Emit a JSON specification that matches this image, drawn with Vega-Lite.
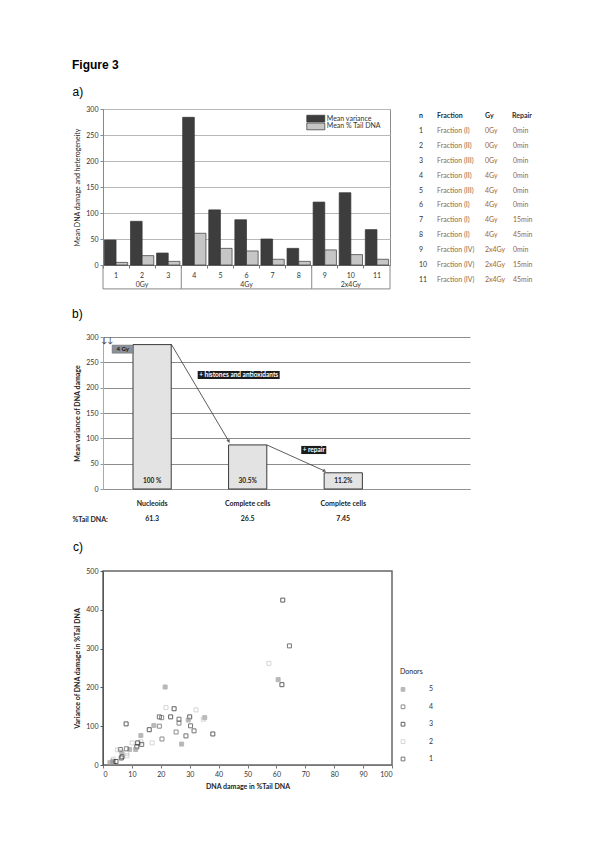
{
  "$schema": "https://vega.github.io/schema/vega-lite/v6.json",
  "padding": {"left": 72, "top": 58, "right": 5, "bottom": 5},
  "background": "white",
  "title": {"text": "Figure 3", "anchor": "start", "frame": "bounds", "font": "Liberation Sans", "fontSize": 12, "fontWeight": "bold", "color": "#000", "offset": 14},
  "spacing": 18,
  "config": {
    "font": "Lato",
    "view": {"stroke": null},
    "axis": {"labelFont": "Lato", "titleFont": "Lato", "labelColor": "#333", "titleColor": "#222"}
  },
  "vconcat": [
    {
      "title": {"text": "a)", "anchor": "start", "frame": "bounds", "font": "Liberation Sans", "fontSize": 12, "fontWeight": "normal", "color": "#000", "offset": 6},
      "spacing": 28,
      "hconcat": [
        {
          "width": 287,
          "height": 156,
          "view": {"stroke": "#8c8c8c"},
          "data": {"values": [
            {"n": 1, "measure": "Mean variance", "value": 48},
            {"n": 1, "measure": "Mean % Tail DNA", "value": 5},
            {"n": 2, "measure": "Mean variance", "value": 84},
            {"n": 2, "measure": "Mean % Tail DNA", "value": 18},
            {"n": 3, "measure": "Mean variance", "value": 23},
            {"n": 3, "measure": "Mean % Tail DNA", "value": 7},
            {"n": 4, "measure": "Mean variance", "value": 284},
            {"n": 4, "measure": "Mean % Tail DNA", "value": 61},
            {"n": 5, "measure": "Mean variance", "value": 106},
            {"n": 5, "measure": "Mean % Tail DNA", "value": 32},
            {"n": 6, "measure": "Mean variance", "value": 87},
            {"n": 6, "measure": "Mean % Tail DNA", "value": 27},
            {"n": 7, "measure": "Mean variance", "value": 50},
            {"n": 7, "measure": "Mean % Tail DNA", "value": 11},
            {"n": 8, "measure": "Mean variance", "value": 32},
            {"n": 8, "measure": "Mean % Tail DNA", "value": 7},
            {"n": 9, "measure": "Mean variance", "value": 121},
            {"n": 9, "measure": "Mean % Tail DNA", "value": 29},
            {"n": 10, "measure": "Mean variance", "value": 139},
            {"n": 10, "measure": "Mean % Tail DNA", "value": 20},
            {"n": 11, "measure": "Mean variance", "value": 68},
            {"n": 11, "measure": "Mean % Tail DNA", "value": 11}
          ]},
          "layer": [
            {
              "mark": {"type": "bar", "stroke": "#333", "strokeWidth": 0.7},
              "encoding": {
                "x": {"field": "n", "type": "ordinal", "scale": {"paddingInner": 0, "paddingOuter": 0},
                  "axis": {"title": null, "labelAngle": 0, "labelFontSize": 7, "domainColor": "#777", "tickColor": "#777", "bandPosition": 0, "tickSize": 3, "labelPadding": 3}},
                "xOffset": {"field": "measure", "type": "nominal", "sort": ["Mean variance", "Mean % Tail DNA"], "scale": {"paddingOuter": 0.12, "paddingInner": 0}},
                "y": {"field": "value", "type": "quantitative", "scale": {"domain": [0, 300], "nice": false},
                  "axis": {"title": "Mean DNA damage and heterogeneity", "values": [0, 50, 100, 150, 200, 250, 300], "gridColor": "#b8b8b8", "labelFontSize": 7, "titleFontSize": 7, "titleFontWeight": "normal", "domainColor": "#888", "tickColor": "#888", "tickSize": 3, "minExtent": 20, "maxExtent": 20, "titlePadding": 3}},
                "color": {"field": "measure", "type": "nominal",
                  "scale": {"domain": ["Mean variance", "Mean % Tail DNA"], "range": ["#3d3d3d", "#c6c6c6"]},
                  "legend": null}
              }
            },
            {
              "data": {"values": [{"n": 2, "grp": "0Gy"}, {"n": 6, "grp": "4Gy"}, {"n": 10, "grp": "2x4Gy"}]},
              "mark": {"type": "text", "fontSize": 7, "color": "#333"},
              "encoding": {
                "x": {"field": "n", "type": "ordinal"},
                "y": {"datum": -39, "axis": {"title": "Mean DNA damage and heterogeneity", "values": [0, 50, 100, 150, 200, 250, 300], "gridColor": "#b8b8b8", "labelFontSize": 7, "titleFontSize": 7, "titleFontWeight": "normal", "domainColor": "#888", "tickColor": "#888", "tickSize": 3, "minExtent": 20, "maxExtent": 20, "titlePadding": 3}},
                "text": {"field": "grp"}
              }
            },
            {
              "data": {"values": [{}]},
              "mark": {"type": "rule", "color": "#888"},
              "encoding": {"x": {"datum": 1, "type": "ordinal", "bandPosition": 0},
                "y": {"datum": 0, "axis": {"title": "Mean DNA damage and heterogeneity", "values": [0, 50, 100, 150, 200, 250, 300], "gridColor": "#b8b8b8", "labelFontSize": 7, "titleFontSize": 7, "titleFontWeight": "normal", "domainColor": "#888", "tickColor": "#888", "tickSize": 3, "minExtent": 20, "maxExtent": 20, "titlePadding": 3}},
                "y2": {"datum": -46}}
            },
            {
              "data": {"values": [{"n": 3}, {"n": 8}, {"n": 11}]},
              "mark": {"type": "rule", "color": "#888"},
              "encoding": {"x": {"field": "n", "type": "ordinal", "bandPosition": 1},
                "y": {"datum": 0, "axis": {"title": "Mean DNA damage and heterogeneity", "values": [0, 50, 100, 150, 200, 250, 300], "gridColor": "#b8b8b8", "labelFontSize": 7, "titleFontSize": 7, "titleFontWeight": "normal", "domainColor": "#888", "tickColor": "#888", "tickSize": 3, "minExtent": 20, "maxExtent": 20, "titlePadding": 3}},
                "y2": {"datum": -46}}
            },
            {
              "data": {"values": [{}]},
              "mark": {"type": "rule", "color": "#888"},
              "encoding": {"y": {"datum": -46, "axis": {"title": "Mean DNA damage and heterogeneity", "values": [0, 50, 100, 150, 200, 250, 300], "gridColor": "#b8b8b8", "labelFontSize": 7, "titleFontSize": 7, "titleFontWeight": "normal", "domainColor": "#888", "tickColor": "#888", "tickSize": 3, "minExtent": 20, "maxExtent": 20, "titlePadding": 3}}}
            },
            {
              "data": {"values": [{"measure": "Mean variance", "top": 288, "bottom": 275}, {"measure": "Mean % Tail DNA", "top": 273, "bottom": 260}]},
              "mark": {"type": "bar", "width": 18, "xOffset": -9, "stroke": "#333", "strokeWidth": 0.7},
              "encoding": {
                "x": {"datum": 9, "type": "ordinal"},
                "y": {"field": "top", "type": "quantitative", "axis": {"title": "Mean DNA damage and heterogeneity", "values": [0, 50, 100, 150, 200, 250, 300], "gridColor": "#b8b8b8", "labelFontSize": 7, "titleFontSize": 7, "titleFontWeight": "normal", "domainColor": "#888", "tickColor": "#888", "tickSize": 3, "minExtent": 20, "maxExtent": 20, "titlePadding": 3}},
                "y2": {"field": "bottom"},
                "color": {"field": "measure", "type": "nominal", "legend": null}
              }
            },
            {
              "data": {"values": [{"measure": "Mean variance", "mid": 281.5}, {"measure": "Mean % Tail DNA", "mid": 266.5}]},
              "mark": {"type": "text", "align": "left", "fontSize": 7, "color": "#333", "dx": 2},
              "encoding": {
                "x": {"datum": 9, "type": "ordinal", "bandPosition": 0.5},
                "y": {"field": "mid", "type": "quantitative", "axis": {"title": "Mean DNA damage and heterogeneity", "values": [0, 50, 100, 150, 200, 250, 300], "gridColor": "#b8b8b8", "labelFontSize": 7, "titleFontSize": 7, "titleFontWeight": "normal", "domainColor": "#888", "tickColor": "#888", "tickSize": 3, "minExtent": 20, "maxExtent": 20, "titlePadding": 3}},
                "text": {"field": "measure"}
              }
            }
          ]
        },
        {
          "width": 93,
          "height": 178,
          "data": {"values": [
            {"n": 1, "fraction": "Fraction (I)", "gy": "0Gy", "repair": "0min"},
            {"n": 2, "fraction": "Fraction (II)", "gy": "0Gy", "repair": "0min"},
            {"n": 3, "fraction": "Fraction (III)", "gy": "0Gy", "repair": "0min"},
            {"n": 4, "fraction": "Fraction (II)", "gy": "4Gy", "repair": "0min"},
            {"n": 5, "fraction": "Fraction (III)", "gy": "4Gy", "repair": "0min"},
            {"n": 6, "fraction": "Fraction (I)", "gy": "4Gy", "repair": "0min"},
            {"n": 7, "fraction": "Fraction (I)", "gy": "4Gy", "repair": "15min"},
            {"n": 8, "fraction": "Fraction (I)", "gy": "4Gy", "repair": "45min"},
            {"n": 9, "fraction": "Fraction (IV)", "gy": "2x4Gy", "repair": "0min"},
            {"n": 10, "fraction": "Fraction (IV)", "gy": "2x4Gy", "repair": "15min"},
            {"n": 11, "fraction": "Fraction (IV)", "gy": "2x4Gy", "repair": "45min"}
          ]},
          "layer": [
            {
              "mark": {"type": "text", "align": "left", "fontSize": 7, "color": "#333"},
              "encoding": {
                "x": {"datum": "n", "type": "nominal", "scale": {"type": "point", "domain": ["n", "Fraction", "Gy", "Repair"], "padding": 0}, "axis": null},
                "y": {"field": "n", "type": "ordinal", "scale": {"domain": [0, 1, 2, 3, 4, 5, 6, 7, 8, 9, 10, 11], "paddingInner": 0, "paddingOuter": 0.25}, "axis": null},
                "text": {"field": "n"}
              }
            },
            {
              "mark": {"type": "text", "align": "left", "fontSize": 7, "color": "#8a6a48", "dx": -13},
              "encoding": {"x": {"datum": "Fraction", "type": "nominal"}, "y": {"field": "n", "type": "ordinal"}, "text": {"field": "fraction"}}
            },
            {
              "mark": {"type": "text", "align": "left", "fontSize": 7, "color": "#a0642e", "dx": 4},
              "encoding": {"x": {"datum": "Gy", "type": "nominal"}, "y": {"field": "n", "type": "ordinal"}, "text": {"field": "gy"}}
            },
            {
              "mark": {"type": "text", "align": "left", "fontSize": 7, "color": "#a0642e", "dx": 1},
              "encoding": {"x": {"datum": "Repair", "type": "nominal"}, "y": {"field": "n", "type": "ordinal"}, "text": {"field": "repair"}}
            },
            {
              "data": {"values": [{}]},
              "mark": {"type": "text", "align": "left", "fontSize": 7, "fontWeight": "bold", "color": "#1f3040", "text": "n"},
              "encoding": {"x": {"datum": "n", "type": "nominal"}, "y": {"datum": 0, "type": "ordinal"}}
            },
            {
              "data": {"values": [{}]},
              "mark": {"type": "text", "align": "left", "fontSize": 7, "fontWeight": "bold", "color": "#1f3040", "text": "Fraction", "dx": -13},
              "encoding": {"x": {"datum": "Fraction", "type": "nominal"}, "y": {"datum": 0, "type": "ordinal"}}
            },
            {
              "data": {"values": [{}]},
              "mark": {"type": "text", "align": "left", "fontSize": 7, "fontWeight": "bold", "color": "#1f3040", "text": "Gy", "dx": 4},
              "encoding": {"x": {"datum": "Gy", "type": "nominal"}, "y": {"datum": 0, "type": "ordinal"}}
            },
            {
              "data": {"values": [{}]},
              "mark": {"type": "text", "align": "left", "fontSize": 7, "fontWeight": "bold", "color": "#1f3040", "text": "Repair"},
              "encoding": {"x": {"datum": "Repair", "type": "nominal"}, "y": {"datum": 0, "type": "ordinal"}}
            }
          ]
        }
      ]
    },
    {
      "title": {"text": "b)", "anchor": "start", "frame": "bounds", "font": "Liberation Sans", "fontSize": 12, "fontWeight": "normal", "color": "#000", "offset": 12},
      "width": 367,
      "height": 152,
      "data": {"values": [
        {"cell": "Nucleoids|61.3", "variance": 285, "share": "100 %"},
        {"cell": "Complete cells|26.5", "variance": 87, "share": "30.5%"},
        {"cell": "Complete cells|7.45", "variance": 32, "share": "11.2%"}
      ]},
      "layer": [
        {
          "mark": {"type": "bar", "fill": "#e3e3e3", "stroke": "#3a3a3a", "strokeWidth": 1},
          "encoding": {
            "x": {"field": "cell", "type": "nominal", "sort": null,
              "scale": {"domain": ["Nucleoids|61.3", "Complete cells|26.5", "Complete cells|7.45"], "paddingInner": 0.6, "paddingOuter": 0.72, "align": 0.218},
              "axis": {"title": "%Tail DNA:", "titleX": -31, "titleY": 30, "titleAlign": "left", "titleBaseline": "middle", "titleFontSize": 7, "titleFontWeight": "bold", "labelExpr": "split(datum.label, '|')", "labelLineHeight": 15, "labelFontSize": 7, "labelFontWeight": "bold", "labelPadding": 10, "ticks": false, "domainColor": "#999", "domainDash": [1, 1], "labelAngle": 0, "labelColor": "#222"}},
            "y": {"field": "variance", "type": "quantitative", "scale": {"domain": [0, 300], "nice": false},
              "axis": {"title": "Mean variance of DNA damage", "titleFontWeight": "bold", "titleFontSize": 7, "values": [0, 50, 100, 150, 200, 250, 300], "gridColor": "#8c8c8c", "labelFontSize": 7, "domainColor": "#aaa", "tickColor": "#999", "tickSize": 3, "minExtent": 20, "maxExtent": 20, "titlePadding": 3}}
          }
        },
        {
          "mark": {"type": "text", "fontSize": 6.5, "fontWeight": "bold", "dy": -8, "color": "#222"},
          "encoding": {"x": {"field": "cell", "type": "nominal"},
            "y": {"datum": 0, "axis": {"title": "Mean variance of DNA damage", "titleFontWeight": "bold", "titleFontSize": 7, "values": [0, 50, 100, 150, 200, 250, 300], "gridColor": "#8c8c8c", "labelFontSize": 7, "domainColor": "#aaa", "tickColor": "#999", "tickSize": 3, "minExtent": 20, "maxExtent": 20, "titlePadding": 3}},
            "text": {"field": "share"}}
        },
        {
          "data": {"values": [
            {"from": "Nucleoids|61.3", "to": "Complete cells|26.5", "start": 286, "end": 95},
            {"from": "Complete cells|26.5", "to": "Complete cells|7.45", "start": 87, "end": 36}
          ]},
          "mark": {"type": "rule", "color": "#333", "strokeWidth": 0.8},
          "encoding": {
            "x": {"field": "from", "type": "nominal", "bandPosition": 1},
            "x2": {"field": "to", "bandPosition": 0},
            "y": {"field": "start", "type": "quantitative", "axis": {"title": "Mean variance of DNA damage", "titleFontWeight": "bold", "titleFontSize": 7, "values": [0, 50, 100, 150, 200, 250, 300], "gridColor": "#8c8c8c", "labelFontSize": 7, "domainColor": "#aaa", "tickColor": "#999", "tickSize": 3, "minExtent": 20, "maxExtent": 20, "titlePadding": 3}},
            "y2": {"field": "end"}
          }
        },
        {
          "data": {"values": [{}]},
          "mark": {"type": "point", "shape": "triangle", "filled": true, "color": "#333", "size": 16, "angle": 152},
          "encoding": {"x": {"datum": "Complete cells|26.5", "type": "nominal", "bandPosition": 0},
            "y": {"datum": 95, "axis": {"title": "Mean variance of DNA damage", "titleFontWeight": "bold", "titleFontSize": 7, "values": [0, 50, 100, 150, 200, 250, 300], "gridColor": "#8c8c8c", "labelFontSize": 7, "domainColor": "#aaa", "tickColor": "#999", "tickSize": 3, "minExtent": 20, "maxExtent": 20, "titlePadding": 3}}}
        },
        {
          "data": {"values": [{}]},
          "mark": {"type": "point", "shape": "triangle", "filled": true, "color": "#333", "size": 16, "angle": 117},
          "encoding": {"x": {"datum": "Complete cells|7.45", "type": "nominal", "bandPosition": 0},
            "y": {"datum": 36, "axis": {"title": "Mean variance of DNA damage", "titleFontWeight": "bold", "titleFontSize": 7, "values": [0, 50, 100, 150, 200, 250, 300], "gridColor": "#8c8c8c", "labelFontSize": 7, "domainColor": "#aaa", "tickColor": "#999", "tickSize": 3, "minExtent": 20, "maxExtent": 20, "titlePadding": 3}}}
        },
        {
          "data": {"values": [{}]},
          "mark": {"type": "bar", "color": "#1c1c1c", "width": 82, "xOffset": -9},
          "encoding": {"x": {"datum": "Complete cells|26.5", "type": "nominal"},
            "y": {"datum": 217, "axis": {"title": "Mean variance of DNA damage", "titleFontWeight": "bold", "titleFontSize": 7, "values": [0, 50, 100, 150, 200, 250, 300], "gridColor": "#8c8c8c", "labelFontSize": 7, "domainColor": "#aaa", "tickColor": "#999", "tickSize": 3, "minExtent": 20, "maxExtent": 20, "titlePadding": 3}},
            "y2": {"datum": 233}}
        },
        {
          "data": {"values": [{}]},
          "mark": {"type": "text", "text": "+ histones and antioxidants", "color": "white", "fontWeight": "bold", "fontSize": 6.5, "dx": -9},
          "encoding": {"x": {"datum": "Complete cells|26.5", "type": "nominal"},
            "y": {"datum": 225, "axis": {"title": "Mean variance of DNA damage", "titleFontWeight": "bold", "titleFontSize": 7, "values": [0, 50, 100, 150, 200, 250, 300], "gridColor": "#8c8c8c", "labelFontSize": 7, "domainColor": "#aaa", "tickColor": "#999", "tickSize": 3, "minExtent": 20, "maxExtent": 20, "titlePadding": 3}}}
        },
        {
          "data": {"values": [{}]},
          "mark": {"type": "bar", "color": "#1c1c1c", "width": 25, "xOffset": -29.5},
          "encoding": {"x": {"datum": "Complete cells|7.45", "type": "nominal"},
            "y": {"datum": 69, "axis": {"title": "Mean variance of DNA damage", "titleFontWeight": "bold", "titleFontSize": 7, "values": [0, 50, 100, 150, 200, 250, 300], "gridColor": "#8c8c8c", "labelFontSize": 7, "domainColor": "#aaa", "tickColor": "#999", "tickSize": 3, "minExtent": 20, "maxExtent": 20, "titlePadding": 3}},
            "y2": {"datum": 85}}
        },
        {
          "data": {"values": [{}]},
          "mark": {"type": "text", "text": "+ repair", "color": "white", "fontWeight": "bold", "fontSize": 6.5, "dx": -29.5},
          "encoding": {"x": {"datum": "Complete cells|7.45", "type": "nominal"},
            "y": {"datum": 77, "axis": {"title": "Mean variance of DNA damage", "titleFontWeight": "bold", "titleFontSize": 7, "values": [0, 50, 100, 150, 200, 250, 300], "gridColor": "#8c8c8c", "labelFontSize": 7, "domainColor": "#aaa", "tickColor": "#999", "tickSize": 3, "minExtent": 20, "maxExtent": 20, "titlePadding": 3}}}
        },
        {
          "data": {"values": [{}]},
          "mark": {"type": "bar", "color": "#8b919b", "stroke": "#666", "strokeWidth": 0.5, "width": 21, "xOffset": -29.5},
          "encoding": {"x": {"datum": "Nucleoids|61.3", "type": "nominal"},
            "y": {"datum": 268, "axis": {"title": "Mean variance of DNA damage", "titleFontWeight": "bold", "titleFontSize": 7, "values": [0, 50, 100, 150, 200, 250, 300], "gridColor": "#8c8c8c", "labelFontSize": 7, "domainColor": "#aaa", "tickColor": "#999", "tickSize": 3, "minExtent": 20, "maxExtent": 20, "titlePadding": 3}},
            "y2": {"datum": 284}}
        },
        {
          "data": {"values": [{}]},
          "mark": {"type": "text", "text": "4 Gy", "color": "#111", "fontWeight": "bold", "fontSize": 6, "dx": -29.5},
          "encoding": {"x": {"datum": "Nucleoids|61.3", "type": "nominal"},
            "y": {"datum": 276, "axis": {"title": "Mean variance of DNA damage", "titleFontWeight": "bold", "titleFontSize": 7, "values": [0, 50, 100, 150, 200, 250, 300], "gridColor": "#8c8c8c", "labelFontSize": 7, "domainColor": "#aaa", "tickColor": "#999", "tickSize": 3, "minExtent": 20, "maxExtent": 20, "titlePadding": 3}}}
        },
        {
          "data": {"values": [{}]},
          "mark": {"type": "text", "text": "↓↓", "color": "#333", "fontSize": 8, "dx": -45},
          "encoding": {"x": {"datum": "Nucleoids|61.3", "type": "nominal"},
            "y": {"datum": 293, "axis": {"title": "Mean variance of DNA damage", "titleFontWeight": "bold", "titleFontSize": 7, "values": [0, 50, 100, 150, 200, 250, 300], "gridColor": "#8c8c8c", "labelFontSize": 7, "domainColor": "#aaa", "tickColor": "#999", "tickSize": 3, "minExtent": 20, "maxExtent": 20, "titlePadding": 3}}}
        }
      ]
    },
    {
      "title": {"text": "c)", "anchor": "start", "frame": "bounds", "font": "Liberation Sans", "fontSize": 12, "fontWeight": "normal", "color": "#000", "offset": 13},
      "width": 289,
      "height": 194,
      "view": {"stroke": "#666", "strokeWidth": 1.5},
      "resolve": {"scale": {"y": "independent"}},
      "layer": [
        {
          "data": {"values": [
            {"x": 62.2, "y": 425, "donor": 3},
            {"x": 64.5, "y": 307, "donor": 1},
            {"x": 57.4, "y": 262, "donor": 2},
            {"x": 60.6, "y": 220, "donor": 5},
            {"x": 61.9, "y": 207, "donor": 3},
            {"x": 21.5, "y": 201, "donor": 5},
            {"x": 21.8, "y": 148, "donor": 2},
            {"x": 24.6, "y": 145, "donor": 3},
            {"x": 19.5, "y": 124, "donor": 1},
            {"x": 20.3, "y": 122, "donor": 4},
            {"x": 23.4, "y": 124, "donor": 3},
            {"x": 26.3, "y": 118, "donor": 1},
            {"x": 26.3, "y": 108, "donor": 4},
            {"x": 30.0, "y": 124, "donor": 3},
            {"x": 32.2, "y": 142, "donor": 2},
            {"x": 29.5, "y": 116, "donor": 5},
            {"x": 35.2, "y": 122, "donor": 5},
            {"x": 34.7, "y": 118, "donor": 2},
            {"x": 30.3, "y": 101, "donor": 1},
            {"x": 17.6, "y": 102, "donor": 5},
            {"x": 19.5, "y": 100, "donor": 4},
            {"x": 16.0, "y": 91, "donor": 3},
            {"x": 8.0, "y": 106, "donor": 3},
            {"x": 25.3, "y": 85, "donor": 4},
            {"x": 31.5, "y": 88, "donor": 1},
            {"x": 38.0, "y": 80, "donor": 3},
            {"x": 28.7, "y": 75, "donor": 1},
            {"x": 20.4, "y": 67, "donor": 4},
            {"x": 27.2, "y": 54, "donor": 5},
            {"x": 13.1, "y": 76, "donor": 5},
            {"x": 13.1, "y": 60, "donor": 2},
            {"x": 17.0, "y": 57, "donor": 2},
            {"x": 10.1, "y": 57, "donor": 2},
            {"x": 12.0, "y": 57, "donor": 3},
            {"x": 13.4, "y": 53, "donor": 1},
            {"x": 11.7, "y": 47, "donor": 3},
            {"x": 11.3, "y": 40, "donor": 5},
            {"x": 9.2, "y": 40, "donor": 5},
            {"x": 8.1, "y": 42, "donor": 4},
            {"x": 6.0, "y": 40, "donor": 1},
            {"x": 5.0, "y": 39, "donor": 2},
            {"x": 6.5, "y": 33, "donor": 5},
            {"x": 8.2, "y": 30, "donor": 2},
            {"x": 6.6, "y": 21, "donor": 3},
            {"x": 6.3, "y": 18, "donor": 1},
            {"x": 8.3, "y": 24, "donor": 2},
            {"x": 3.6, "y": 15, "donor": 2},
            {"x": 3.4, "y": 10, "donor": 5},
            {"x": 3.6, "y": 7, "donor": 5},
            {"x": 4.5, "y": 9, "donor": 3},
            {"x": 2.4, "y": 6, "donor": 5}
          ]},
          "mark": {"type": "point", "shape": "square", "filled": true, "size": 16, "strokeWidth": 1},
          "encoding": {
            "x": {"field": "x", "type": "quantitative", "scale": {"domain": [0, 100], "nice": false},
              "axis": {"title": "DNA damage in %Tail DNA", "values": [0, 10, 20, 30, 40, 50, 60, 70, 80, 90, 100], "grid": false, "labelFontSize": 7, "titleFontSize": 7, "titleFontWeight": "bold", "domainColor": "#777", "tickColor": "#777", "tickSize": 3, "titlePadding": 5}},
            "y": {"field": "y", "type": "quantitative", "scale": {"domain": [0, 500], "nice": false},
              "axis": {"title": "Variance of DNA damage in %Tail DNA", "values": [0, 100, 200, 300, 400, 500], "grid": false, "labelFontSize": 7, "titleFontSize": 7, "titleFontWeight": "bold", "domainColor": "#555", "tickColor": "#555", "tickSize": 3, "minExtent": 20, "maxExtent": 20, "titlePadding": 3}},
            "stroke": {"field": "donor", "type": "nominal",
              "scale": {"domain": [5, 4, 3, 2, 1], "range": ["#9b9b9b", "#5c5c5c", "#1e1e1e", "#c4c4c4", "#3c3c3c"]}, "legend": null},
            "fill": {"field": "donor", "type": "nominal",
              "scale": {"domain": [5, 4, 3, 2, 1], "range": ["#9b9b9b", "transparent", "transparent", "transparent", "transparent"]}, "legend": null}
          }
        },
        {
          "data": {"values": [{"donor": 5}, {"donor": 4}, {"donor": 3}, {"donor": 2}, {"donor": 1}]},
          "layer": [
            {
              "mark": {"type": "point", "shape": "square", "filled": true, "size": 14, "strokeWidth": 1, "xOffset": 11},
              "encoding": {
                "x": {"datum": 100, "type": "quantitative", "axis": {"title": "DNA damage in %Tail DNA", "values": [0, 10, 20, 30, 40, 50, 60, 70, 80, 90, 100], "grid": false, "labelFontSize": 7, "titleFontSize": 7, "titleFontWeight": "bold", "domainColor": "#777", "tickColor": "#777", "tickSize": 3, "titlePadding": 5}},
                "y": {"field": "donor", "type": "ordinal", "scale": {"type": "point", "domain": ["Donors", 5, 4, 3, 2, 1], "range": [101, 188], "padding": 0}, "axis": null},
                "stroke": {"field": "donor", "type": "nominal", "legend": null},
                "fill": {"field": "donor", "type": "nominal", "legend": null}
              }
            },
            {
              "mark": {"type": "text", "align": "left", "fontSize": 7, "color": "#333", "dx": 37},
              "encoding": {
                "x": {"datum": 100, "type": "quantitative", "axis": {"title": "DNA damage in %Tail DNA", "values": [0, 10, 20, 30, 40, 50, 60, 70, 80, 90, 100], "grid": false, "labelFontSize": 7, "titleFontSize": 7, "titleFontWeight": "bold", "domainColor": "#777", "tickColor": "#777", "tickSize": 3, "titlePadding": 5}},
                "y": {"field": "donor", "type": "ordinal", "axis": null},
                "text": {"field": "donor"}
              }
            },
            {
              "data": {"values": [{}]},
              "mark": {"type": "text", "align": "left", "fontSize": 7, "color": "#222", "dx": 8, "text": "Donors"},
              "encoding": {
                "x": {"datum": 100, "type": "quantitative", "axis": {"title": "DNA damage in %Tail DNA", "values": [0, 10, 20, 30, 40, 50, 60, 70, 80, 90, 100], "grid": false, "labelFontSize": 7, "titleFontSize": 7, "titleFontWeight": "bold", "domainColor": "#777", "tickColor": "#777", "tickSize": 3, "titlePadding": 5}},
                "y": {"datum": "Donors", "type": "ordinal", "axis": null}
              }
            }
          ]
        }
      ]
    }
  ]
}
